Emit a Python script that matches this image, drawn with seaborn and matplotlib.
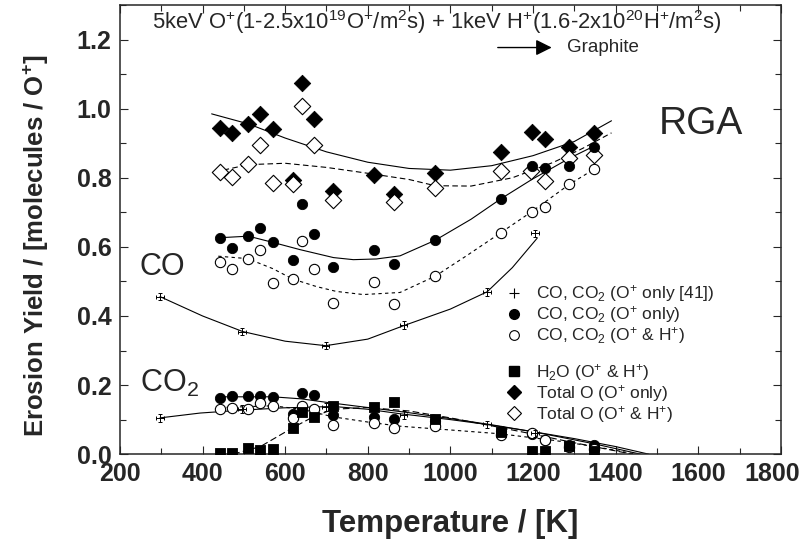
import numpy as np
import matplotlib.pyplot as plt
import seaborn as sns
from matplotlib.lines import Line2D
from matplotlib.ticker import MultipleLocator, FormatStrFormatter
from matplotlib.transforms import ScaledTranslation

sns.set_theme(style='ticks')
plt.rcParams['font.family'] = ['Liberation Sans', 'DejaVu Sans']
plt.rcParams['mathtext.fontset'] = 'custom'
plt.rcParams['mathtext.rm'] = 'Liberation Sans'
plt.rcParams['mathtext.bf'] = 'Liberation Sans:bold'
plt.rcParams['mathtext.default'] = 'regular'

# ---- measured points (temperature in K) ----
T = [442, 471, 510, 540, 570, 619, 640, 669, 716, 816, 864, 963, 1122, 1197, 1230, 1288, 1347]
T_OH_D = [442, 472, 511, 539, 570, 619, 640, 670, 716, 864, 963, 1122, 1195, 1229, 1288, 1347]
T_lit = [297, 495, 698, 887, 1089, 1205]

totalO_only = [.943, .930, .957, .984, .940, .794, 1.073, .970, .762, .808, .754, .815, .876, .933, .911, .888, .930]
totalO_OH = [.816, .802, .840, .894, .786, .781, 1.007, .894, .736, .729, .770, .819, .819, .791, .858, .867]
co_only = [.626, .596, .631, .655, .613, .563, .725, .637, .541, .590, .551, .619, .739, .833, .827, .833, .890]
co_OH = [.557, .536, .564, .590, .494, .507, .617, .535, .438, .497, .434, .515, .641, .702, .716, .781, .824]
co2_only = [.164, .169, .167, .169, .165, .117, .176, .172, .113, .108, .101, .095, .068, .059, .042, .027, .027]
co2_OH = [.131, .133, .131, .149, .140, .104, .140, .131, .084, .090, .075, .081, .055, .060, .040, .020, .015]
h2o_OH = [.004, .004, .018, .011, .014, .077, .122, .108, .140, .137, .151, .101, .063, .009, .009, .023, .009]
co_lit = [.456, .355, .314, .373, .470, .639]
co2_lit = [.105, .131, .136, .113, .086, .060]

# ---- guide curves ----
totO_only_cx = [422, 511, 600, 700, 800, 900, 1000, 1100, 1200, 1300, 1390]
totO_only_cy = [.985, .956, .915, .875, .845, .827, .822, .835, .864, .905, .965]
totO_OH_cx = [430, 511, 600, 700, 800, 900, 963, 1050, 1150, 1250, 1320, 1390]
totO_OH_cy = [.817, .838, .842, .830, .813, .795, .777, .776, .800, .845, .885, .930]
co_only_cx = [434, 511, 570, 636, 717, 765, 821, 878, 963, 1050, 1122, 1197, 1289, 1350]
co_only_cy = [.626, .631, .613, .592, .569, .563, .565, .574, .619, .680, .739, .795, .857, .893]
co_OH_cx = [438, 509, 570, 618, 676, 724, 789, 878, 963, 1040, 1122, 1197, 1288, 1355]
co_OH_cy = [.573, .566, .537, .507, .485, .471, .462, .468, .515, .575, .641, .702, .781, .830]
co_lit_cx = [297, 400, 497, 600, 698, 800, 887, 1000, 1089, 1150, 1210]
co_lit_cy = [.456, .400, .355, .327, .314, .333, .372, .420, .470, .540, .625]
co2_only_cx = [442, 570, 640, 700, 800, 900, 1000, 1100, 1200, 1300, 1400, 1480]
co2_only_cy = [.166, .166, .160, .150, .135, .120, .103, .085, .065, .045, .022, .0]
co2_OH_cx = [442, 570, 640, 716, 800, 877, 1000, 1120, 1250, 1350, 1450]
co2_OH_cy = [.135, .140, .130, .108, .093, .081, .070, .059, .040, .022, .0]
co2_lit_cx = [297, 394, 490, 595, 716, 800, 878, 1000, 1088, 1200, 1348, 1460]
co2_lit_cy = [.105, .119, .127, .134, .138, .130, .117, .100, .086, .065, .030, .0]
h2o_cx = [474, 540, 619, 668, 716, 800, 900, 1000, 1100, 1200, 1300, 1440]
h2o_cy = [.0, .022, .077, .108, .130, .135, .125, .105, .082, .058, .033, .0]

x_ticks = [200, 400, 600, 800, 1000, 1200, 1400, 1600, 1800]

fig, ax = plt.subplots(figsize=(8.05, 5.6), dpi=100)
fig.subplots_adjust(left=0.149, right=0.970, top=0.991, bottom=0.189)

# curves
curves = [
    (totO_only_cx, totO_only_cy, None),
    (totO_OH_cx, totO_OH_cy, [5, 3]),
    (co_only_cx, co_only_cy, None),
    (co_OH_cx, co_OH_cy, [3, 3]),
    (co_lit_cx, co_lit_cy, None),
    (co2_only_cx, co2_only_cy, None),
    (co2_OH_cx, co2_OH_cy, [3, 3]),
    (co2_lit_cx, co2_lit_cy, None),
    (h2o_cx, h2o_cy, [6, 3]),
]
for cx, cy, dash in curves:
    sns.lineplot(x=cx, y=cy, color='black', lw=0.8, sort=False, estimator=None, ax=ax)
    if dash is not None:
        ax.lines[-1].set_dashes(dash)

# points
filled = dict(color='black', edgecolor='black', linewidth=0.6, zorder=4, ax=ax)
opened = dict(color='white', edgecolor='black', linewidth=0.8, zorder=4, ax=ax)
sns.scatterplot(x=T, y=totalO_only, marker='D', s=70, **filled)
sns.scatterplot(x=T_OH_D, y=totalO_OH, marker='D', s=70, **opened)
sns.scatterplot(x=T, y=co_only, marker='o', s=55, **filled)
sns.scatterplot(x=T, y=co_OH, marker='o', s=55, **opened)
sns.scatterplot(x=T, y=co2_only, marker='o', s=55, **filled)
sns.scatterplot(x=T, y=co2_OH, marker='o', s=55, **opened)
sns.scatterplot(x=T, y=h2o_OH, marker='s', s=50, **filled)
for yy in (co_lit, co2_lit):
    ax.errorbar(T_lit, yy, xerr=9, yerr=0.011, fmt='none', ecolor='black',
                elinewidth=0.7, capsize=1.5, capthick=0.7, zorder=4)

ax.set_xlim(200, 1800)
ax.set_ylim(0, 1.3)
ax.set_xticks(x_ticks)
ax.xaxis.set_minor_locator(MultipleLocator(100))
ax.yaxis.set_major_locator(MultipleLocator(0.2))
ax.yaxis.set_minor_locator(MultipleLocator(0.1))
ax.yaxis.set_major_formatter(FormatStrFormatter('%.1f'))
ax.tick_params(which='both', direction='in', top=True, right=True, width=0.8)
ax.tick_params(which='major', length=6, labelsize=18)
ax.tick_params(axis='x', which='major', pad=6)
ax.tick_params(axis='y', which='major', pad=6)
ax.tick_params(which='minor', length=4)
for sp in ax.spines.values():
    sp.set_linewidth(1.1)
    sp.set_visible(True)

ax.set_xlabel('Temperature / [K]', fontsize=22.5, fontweight='bold', va='top')
ax.set_ylabel(r'Erosion Yield / [molecules / O$^{+}$]', fontsize=18.5, fontweight='bold')
ax.xaxis.set_label_coords(0.5, -0.122)
ax.yaxis.set_label_coords(-0.104, 0.465)

# annotations
ax.text(277, 1.252, r'5keV O$^{+}$(1-2.5x10$^{19}$O$^{+}$/m$^{2}$s) + 1keV H$^{+}$(1.6-2x10$^{20}$H$^{+}$/m$^{2}$s)',
        fontsize=15.8, ha='left', va='center')
ax.annotate('', xy=(1252, 1.177), xytext=(1108, 1.177),
            arrowprops=dict(arrowstyle='-|>', color='black', lw=1, mutation_scale=24))
ax.text(1282, 1.177, 'Graphite', fontsize=13.5, ha='left', va='center')
ax.text(1505, 0.955, 'RGA', fontsize=28, ha='left', va='center')
ax.text(248, 0.542, 'CO', fontsize=22, ha='left', va='center')
ax.text(248, 0.206, r'CO$_2$', fontsize=22, ha='left', va='center')

handles = [
    Line2D([], [], marker='+', ls='none', color='black', ms=7, mew=0.8),
    Line2D([], [], marker='o', ls='none', mfc='black', mec='black', ms=7),
    Line2D([], [], marker='o', ls='none', mfc='white', mec='black', ms=7, mew=0.8),
    Line2D([], [], ls='none'),
    Line2D([], [], marker='s', ls='none', mfc='black', mec='black', ms=7),
    Line2D([], [], marker='D', ls='none', mfc='black', mec='black', ms=7),
    Line2D([], [], marker='D', ls='none', mfc='white', mec='black', ms=7, mew=0.8),
]
labels = [
    r'CO, CO$_2$ (O$^{+}$ only [41])',
    r'CO, CO$_2$ (O$^{+}$ only)',
    r'CO, CO$_2$ (O$^{+}$ & H$^{+}$)',
    ' ',
    r'H$_2$O (O$^{+}$ & H$^{+}$)',
    r'Total O (O$^{+}$ only)',
    r'Total O (O$^{+}$ & H$^{+}$)',
]
ax.legend(handles, labels, loc='upper left', bbox_to_anchor=(0.585, 0.38), frameon=False,
          fontsize=12.5, handlelength=0.8, handletextpad=0.9, labelspacing=0.0,
          borderpad=0, borderaxespad=0)

fig.canvas.draw()
for lab in ax.get_xticklabels() + ax.get_yticklabels():
    lab.set_fontweight('bold')
    if lab.get_text() == '1800':
        lab.set_transform(lab.get_transform() + ScaledTranslation(-6 / 72, 0, fig.dpi_scale_trans))

fig.savefig('out.png', dpi=100)
